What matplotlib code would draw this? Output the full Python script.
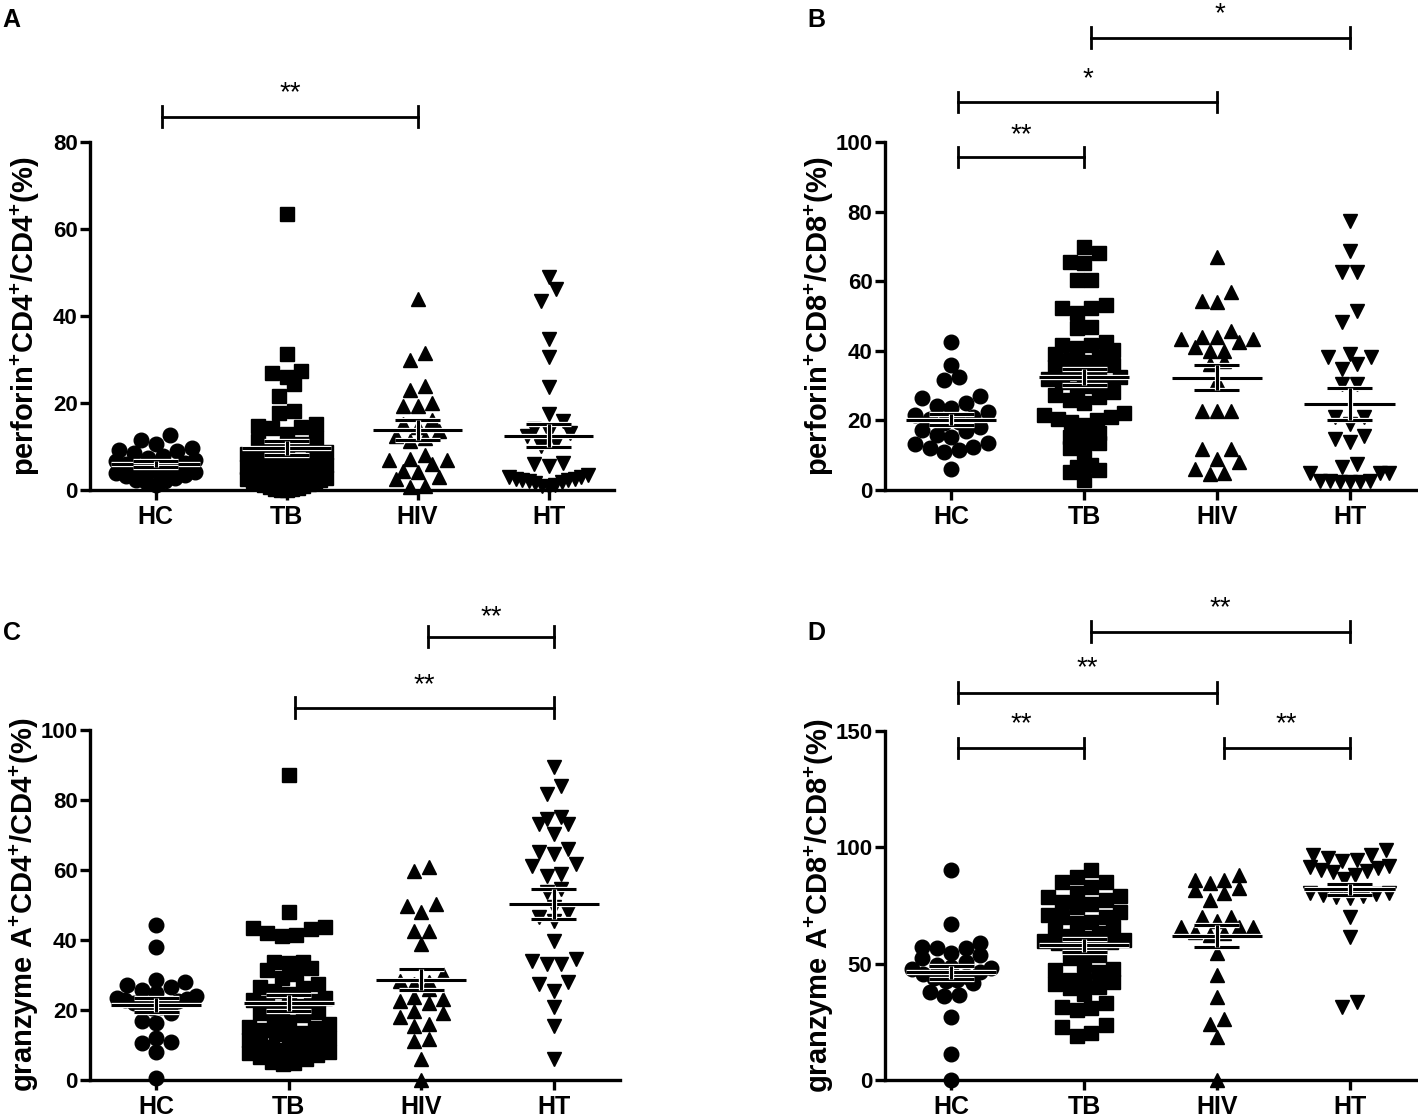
import numpy as np
import matplotlib
matplotlib.use('Agg')
import matplotlib.pyplot as plt
import matplotlib.patheffects as pe
from matplotlib.transforms import blended_transform_factory

plt.rcParams['font.family'] = ['Liberation Sans', 'DejaVu Sans']
plt.rcParams['font.weight'] = 'bold'
plt.rcParams['mathtext.fontset'] = 'custom'
plt.rcParams['mathtext.rm'] = 'Liberation Sans:bold'
plt.rcParams['mathtext.bf'] = 'Liberation Sans:bold'
plt.rcParams['mathtext.it'] = 'Liberation Sans:bold'

groups = ['HC', 'TB', 'HIV', 'HT']
markers = ['o', 's', '^', 'v']

# --- A: perforin+CD4+/CD4+ (%)
perf4_hc = [12.7, 11.6, 10.5, 9.6, 9.2, 9.0, 8.4, 7.8, 7.3, 7.0, 6.6, 6.2, 5.9, 5.5,
            5.2, 4.9, 4.6, 4.3, 4.1, 3.8, 3.5, 3.2, 2.8, 2.3, 2.0, 1.8, 1.2]
perf4_tb = [63.5, 31.3, 27.4, 26.8, 25.9, 24.4, 21.7, 18.2, 17.6, 15.2, 14.8, 14.4, 14.2,
            12.8, 12.0, 11.2, 10.5, 10.0, 9.4, 8.8, 8.2, 7.8, 7.3, 6.9, 6.5, 6.1, 5.7,
            5.3, 5.0, 4.6, 4.3, 4.0, 3.7, 3.4, 3.1, 2.8, 2.5, 2.2, 2.0, 1.8, 1.5, 1.3,
            1.1, 0.9, 0.7, 0.5, 0.3, 0.2, 0.0, 0.0]
perf4_hiv = [43.9, 31.4, 29.9, 24.0, 23.0, 20.0, 19.2, 19.2, 16.0, 15.2, 14.5, 13.6, 12.5,
             12.0, 11.2, 8.0, 7.2, 7.0, 6.8, 6.0, 4.4, 4.1, 2.9, 2.5, 1.0, 0.8]
perf4_ht = [48.9, 46.2, 43.5, 34.7, 30.5, 23.6, 17.5, 15.9, 14.0, 13.3, 13.0, 12.5, 11.0,
            10.2, 6.2, 6.0, 5.5, 3.5, 3.0, 2.9, 2.6, 2.5, 2.4, 2.2, 2.0, 1.8, 1.5, 1.2,
            1.0, 0.8]
perf4_mean = [6.0, 9.65, 13.8, 12.5]
perf4_sem = [0.6, 1.6, 2.2, 2.7]

# --- B: perforin+CD8+/CD8+ (%)
perf8_hc = [42.5, 35.8, 32.5, 31.5, 27.0, 26.3, 25.0, 24.0, 23.6, 22.5, 21.5, 21.0, 20.5,
            19.6, 19.2, 18.2, 17.2, 17.0, 15.8, 15.2, 13.6, 13.2, 12.4, 12.0, 11.5, 11.0, 6.0]
perf8_tb = [69.9, 68.0, 65.6, 65.2, 60.3, 60.3, 53.2, 52.3, 52.3, 50.9, 46.9, 46.6, 42.5,
            41.7, 41.7, 40.8, 40.2, 39.0, 38.3, 37.5, 36.9, 36.0, 35.4, 34.6, 33.6, 33.0,
            32.6, 31.8, 31.1, 31.1, 30.0, 29.0, 28.3, 27.3, 26.8, 25.9, 25.0, 22.0, 21.5,
            21.1, 20.5, 20.0, 19.6, 18.8, 16.3, 15.3, 14.9, 13.5, 12.0, 11.0, 7.2, 6.7,
            5.7, 5.2, 2.9]
perf8_hiv = [66.9, 56.8, 54.4, 53.9, 45.8, 44.0, 43.9, 43.4, 43.4, 42.5, 41.0, 40.0, 40.0,
             37.2, 36.2, 31.4, 22.8, 22.8, 22.8, 11.8, 11.8, 8.9, 8.0, 6.0, 5.0, 4.6]
perf8_ht = [77.4, 68.8, 62.5, 62.5, 51.5, 48.2, 39.0, 38.1, 38.1, 36.2, 34.8, 30.5, 30.5,
            21.0, 20.9, 19.0, 15.6, 14.7, 13.7, 7.5, 6.5, 5.0, 5.0, 4.8, 2.7, 2.5, 2.2,
            2.2, 2.2, 2.5]
perf8_mean = [20.2, 32.4, 32.3, 24.7]
perf8_sem = [1.6, 2.3, 3.7, 4.5]

# --- C: granzyme A+CD4+/CD4+ (%)
gzm4_hc = [44.3, 38.0, 28.6, 28.1, 27.1, 26.5, 25.7, 24.8, 24.0, 23.5, 23.0, 22.9, 22.5,
           22.0, 21.5, 21.0, 20.9, 20.5, 19.1, 16.9, 16.3, 12.0, 10.9, 10.6, 8.1, 0.6]
gzm4_tb = [87.0, 48.0, 43.8, 43.4, 43.0, 42.0, 41.4, 41.0, 33.8, 33.6, 33.4, 32.0, 31.4,
           30.3, 29.1, 27.4, 26.5, 26.3, 25.5, 24.5, 23.5, 22.9, 22.5, 22.0, 21.0, 20.5,
           19.5, 19.0, 18.5, 17.1, 16.5, 16.0, 15.2, 14.8, 14.3, 13.5, 13.0, 12.4, 12.0,
           11.5, 11.0, 10.5, 10.0, 9.5, 9.0, 8.5, 8.1, 7.8, 7.2, 6.7, 6.0, 5.2, 4.8, 4.5]
gzm4_hiv = [60.8, 59.8, 50.3, 49.8, 47.9, 42.7, 42.7, 38.9, 30.3, 28.4, 27.9, 27.4, 26.0,
            23.6, 23.0, 22.7, 22.0, 19.8, 19.0, 17.9, 16.0, 15.5, 11.7, 11.2, 6.0, 0.0]
gzm4_ht = [89.3, 84.1, 81.7, 75.0, 74.6, 73.1, 73.1, 70.3, 66.0, 65.0, 64.6, 61.7, 61.2,
           58.9, 58.4, 54.5, 53.6, 49.3, 47.9, 46.5, 45.5, 39.8, 34.6, 34.0, 33.1, 33.1,
           27.9, 27.4, 25.5, 20.8, 15.5, 6.0]
gzm4_mean = [21.5, 22.0, 28.7, 50.3]
gzm4_sem = [2.0, 2.4, 3.0, 4.4]

# --- D: granzyme A+CD8+/CD8+ (%)
gzm8_hc = [90.2, 67.0, 58.7, 57.0, 56.6, 56.6, 54.4, 53.7, 52.3, 50.5, 49.4, 48.7, 48.0,
           47.5, 46.5, 45.5, 44.4, 44.0, 43.0, 42.5, 41.5, 37.9, 36.5, 36.0, 27.2, 11.2, 0.0]
gzm8_tb = [90.2, 87.4, 85.2, 85.2, 83.0, 80.2, 79.0, 78.5, 77.4, 76.6, 75.5, 74.5, 72.4,
           71.0, 70.2, 70.2, 68.0, 67.3, 65.9, 64.5, 63.0, 62.0, 61.0, 60.2, 59.8, 59.4,
           58.7, 58.0, 57.5, 55.0, 53.7, 52.5, 49.4, 47.9, 47.3, 46.5, 43.0, 42.9, 42.2,
           41.4, 40.1, 39.5, 37.1, 33.0, 31.5, 30.8, 29.9, 23.6, 22.9, 20.1, 19.1]
gzm8_hiv = [88.2, 86.0, 86.0, 84.6, 82.4, 81.7, 80.3, 77.4, 70.2, 70.2, 68.5, 65.9, 65.9,
            65.9, 63.7, 63.0, 62.5, 54.4, 45.0, 35.7, 26.3, 24.2, 18.4, 0.0]
gzm8_ht = [99.0, 96.8, 96.8, 95.5, 94.7, 94.0, 91.8, 91.5, 91.0, 90.4, 90.0, 89.5, 88.0,
           86.5, 80.3, 80.3, 79.8, 79.5, 79.0, 78.5, 78.0, 70.2, 61.6, 33.5, 31.4]
gzm8_mean = [46.2, 57.8, 61.9, 81.9]
gzm8_sem = [2.6, 2.6, 4.7, 2.4]

panels = [
    dict(letter='A', data=[perf4_hc, perf4_tb, perf4_hiv, perf4_ht], mean=perf4_mean, sem=perf4_sem,
         ylabel='perforin$^{+}$CD4$^{+}$/CD4$^{+}$(%)', ymax=80, yticks=[0, 20, 40, 60, 80],
         rect=[0.0635, 0.5617, 0.3695, 0.3113],
         brackets=[(0, 2, '**', 1.072, 1.141)]),
    dict(letter='B', data=[perf8_hc, perf8_tb, perf8_hiv, perf8_ht], mean=perf8_mean, sem=perf8_sem,
         ylabel='perforin$^{+}$CD8$^{+}$/CD8$^{+}$(%)', ymax=100, yticks=[0, 20, 40, 60, 80, 100],
         rect=[0.6241, 0.5617, 0.3745, 0.3113],
         brackets=[(0, 1, '**', 0.957, 1.020), (0, 2, '*', 1.115, 1.179), (1, 3, '*', 1.299, 1.366)]),
    dict(letter='C', data=[gzm4_hc, gzm4_tb, gzm4_hiv, gzm4_ht], mean=gzm4_mean, sem=gzm4_sem,
         ylabel='granzyme A$^{+}$CD4$^{+}$/CD4$^{+}$(%)', ymax=100, yticks=[0, 20, 40, 60, 80, 100],
         rect=[0.0635, 0.034, 0.3738, 0.3131],
         brackets=[(1, 3, '**', 1.063, 1.129), (2, 3, '**', 1.266, 1.323)]),
    dict(letter='D', data=[gzm8_hc, gzm8_tb, gzm8_hiv, gzm8_ht], mean=gzm8_mean, sem=gzm8_sem,
         ylabel='granzyme A$^{+}$CD8$^{+}$/CD8$^{+}$(%)', ymax=150, yticks=[0, 50, 100, 150],
         rect=[0.6241, 0.034, 0.3745, 0.3122],
         brackets=[(0, 1, '**', 0.951, 1.018), (2, 3, '**', 0.951, 1.018),
                   (0, 2, '**', 1.11, 1.181), (1, 3, '**', 1.284, 1.353)]),
]

W, H = 14.18, 11.18
fig = plt.figure(figsize=(W, H), dpi=100)
LW = 2.2
AXLW = 2.4
MS = 10.5  # marker size, points
outline = [pe.Stroke(linewidth=LW + 1.6, foreground='white'), pe.Normal()]


def column_offsets(vals, bin_h, step, max_half):
    vals = np.asarray(vals, dtype=float)
    order = np.argsort(vals)
    v = vals[order]
    offs = np.zeros(len(vals))
    i = 0
    while i < len(v):
        j = i
        while j < len(v) and v[j] - v[i] < bin_h:
            j += 1
        k = j - i
        s = step if k == 1 else min(step, 2 * max_half / (k - 1))
        slots = (np.arange(k) - (k - 1) / 2) * s
        # fill slots from the centre outwards
        slot_order = np.argsort(np.abs(slots) + 1e-6 * np.arange(k))
        offs[order[i:j]] = slots[slot_order]
        i = j
    return offs


for p in panels:
    ax = fig.add_axes(p['rect'])
    ax.set_xlim(0.5, 4.5)
    ax.set_ylim(0, p['ymax'])
    ax_h_px = p['rect'][3] * H * 100
    ax_w_px = p['rect'][2] * W * 100
    px_per_y = ax_h_px / p['ymax']
    px_per_x = ax_w_px / 4.0
    bin_h = 13.0 / px_per_y
    step = 14.5 / px_per_x

    for gi, vals in enumerate(p['data']):
        xc = gi + 1
        offs = column_offsets(vals, bin_h, step, 0.30)
        ax.plot(xc + offs, vals, linestyle='none', marker=markers[gi], ms=MS,
                color='black', mec='black', clip_on=False, zorder=2)
        m, s = p['mean'][gi], p['sem'][gi]
        ax.plot([xc - 0.34, xc + 0.34], [m, m], color='black', lw=LW, zorder=4,
                solid_capstyle='butt', path_effects=outline)
        for yy in (m - s, m + s):
            ax.plot([xc - 0.17, xc + 0.17], [yy, yy], color='black', lw=LW, zorder=4,
                    solid_capstyle='butt', path_effects=outline)
        ax.plot([xc, xc], [m - s, m + s], color='black', lw=LW, zorder=4,
                solid_capstyle='butt', path_effects=outline)

    tr = blended_transform_factory(ax.transData, ax.transAxes)
    cap = 0.03 * 0.3113 / p['rect'][3]
    for g1, g2, lab, yb, ys in p['brackets']:
        x1, x2 = g1 + 1 + 0.05, g2 + 1
        ax.plot([x1, x2], [yb, yb], color='black', lw=2.0, transform=tr, clip_on=False)
        for xx in (x1, x2):
            ax.plot([xx, xx], [yb - cap, yb + cap], color='black', lw=2.0, transform=tr,
                    clip_on=False)
        ax.text((x1 + x2) / 2, ys, lab, transform=tr, ha='center', va='center',
                fontsize=20, fontweight='normal')

    for side in ('top', 'right'):
        ax.spines[side].set_visible(False)
    for side in ('left', 'bottom'):
        ax.spines[side].set_linewidth(AXLW)
    ax.set_xticks(range(1, 5))
    ax.set_xticklabels(groups, fontsize=18, fontweight='bold')
    ax.set_yticks(p['yticks'])
    ax.set_yticklabels([str(t) for t in p['yticks']], fontsize=16, fontweight='bold')
    ax.tick_params(axis='y', length=7, width=AXLW, pad=2)
    ax.tick_params(axis='x', length=7.5, width=AXLW, pad=3)
    ax.set_ylabel(p['ylabel'], fontsize=21, fontweight='bold', va='center')
    ax.yaxis.set_label_coords(-0.123, 0.5)

    lx = 0.0 if p['letter'] in 'AC' else 805 / 1418
    ly = 1 - 8 / 1118 if p['letter'] in 'AB' else 1 - 621 / 1118
    fig.text(lx + 0.002, ly, p['letter'], fontsize=18, fontweight='bold', va='top', ha='left')

fig.savefig('out.png', dpi=100)
